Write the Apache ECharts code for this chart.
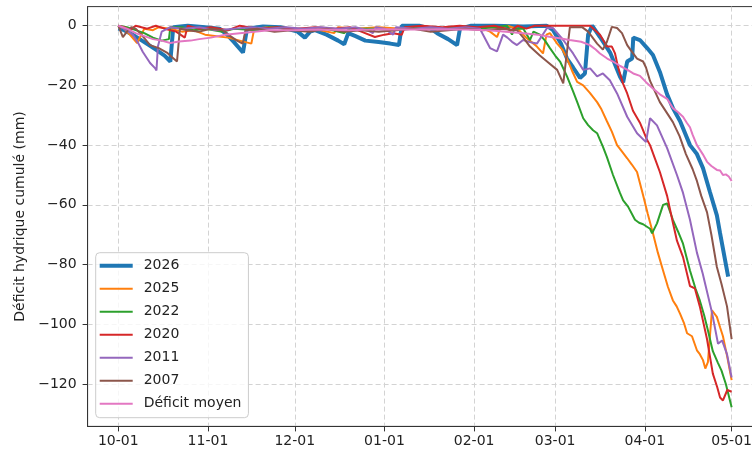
<!DOCTYPE html>
<html><head><meta charset="utf-8">
<script src="https://cdn.jsdelivr.net/npm/echarts@6/dist/echarts.min.js"></script>
<style>html,body{margin:0;padding:0;background:#fff;overflow:hidden}#c{width:790px;height:453px}</style>
</head><body><div id="c"></div><script>
// x = days since 10-01
const monthDays = [0,31,61,92,123,151,182,212];
const monthLabels = ['10-01','11-01','12-01','01-01','02-01','03-01','04-01','05-01'];
const yTicks = [0,-20,-40,-60,-80,-100,-120];
const seriesNames = ['2026','2025','2022','2020','2011','2007','Déficit moyen'];

const s2026 = [[0,-1],[2,-1.5],[5,-3],[9,-5.5],[13,-8],[16,-10],[18,-12],[19,-0.5],[24,0],[30,-0.5],[35,-1],[37.6,-3],[40,-5.5],[43.1,-9],[44.5,-1],[50,-0.3],[56,-0.5],[62,-2],[64.5,-4],[66.3,-2],[68,-1.5],[72,-3],[76,-5],[78.1,-6.2],[79.5,-2.5],[82,-3.5],[85.4,-5],[90,-5.5],[94,-6],[97,-6.5],[98,0],[104,0],[108,-1],[110.2,-2.5],[114,-4.5],[117.1,-6.5],[118.1,-1],[122,0],[130,0],[140,-0.3],[148,0],[150.3,-1.5],[153,-6],[155.1,-11],[157.2,-14],[159.6,-17.5],[161.3,-16],[162.4,-3],[163.8,0],[166.5,-3.8],[170,-9],[173.4,-17],[174.5,-19],[175.9,-12],[177.6,-11],[178,-4],[180.3,-4.8],[182.8,-7.5],[184.8,-9.8],[187.2,-15.5],[189.7,-23],[191.7,-27.6],[194.2,-32],[197.6,-40],[200,-43],[202.1,-47.7],[204.5,-55.7],[206.9,-63.5],[208,-69.5],[210.8,-84]];
const s2025 = [[0,0],[2,-1],[4,-3],[6.5,-5.8],[8,-3],[9,-1],[12,-1.5],[14,-0.5],[18,-1],[22,-2],[26,-1.5],[30,-3],[34,-3.5],[38,-4],[42,-5],[46,-6],[47,-1],[52,-0.5],[58,-1],[64,-1],[70,-1.5],[74.6,-2.5],[76,-0.5],[82,-1],[90,-0.5],[98,-1],[104,-0.5],[112,-1],[120,-0.5],[126,-1],[128.5,-2],[130.9,-3.8],[132,-1],[134.4,0],[138,-1],[141,-4],[144.7,-7],[146.8,-9.3],[148,-3],[149.2,-2.5],[151.7,-6],[153.5,-8],[155.1,-11],[156.8,-15],[158.6,-18.8],[160.7,-20],[163,-22.5],[165.5,-25.6],[167,-28],[168.9,-32],[170.6,-35.5],[172.4,-40],[174,-42],[175.9,-44.4],[177.5,-46.5],[179.3,-49],[181.4,-56.8],[183,-63],[184.8,-69.5],[186.5,-76],[188.3,-82],[190,-87.5],[191.7,-92],[193,-94],[194.2,-96.5],[195.5,-99.5],[196.6,-103],[198.3,-104],[200,-108.7],[201,-110],[202.1,-112],[202.9,-114.8],[203.8,-112.7],[205.2,-95.3],[206.9,-97.5],[208,-101],[209,-104],[210.5,-111],[212,-118.7]];
const s2022 = [[0,0],[3,-0.5],[6,-1.5],[9,-2.5],[12,-4],[15,-5],[17.5,-4.5],[18,-0.5],[22,-0.5],[26,-1.5],[30,-1],[36,-2],[40,-1],[48,-1.5],[52,-0.5],[60,-1],[66,-1.5],[72,-1],[78,-2.5],[80,-1],[88,-1],[95,-1.5],[100,-0.5],[108,-1],[116,-0.5],[124,-1],[130,-0.5],[134.4,0],[136.1,-3],[137,-1],[140,-1],[142.3,-4.8],[143.5,-2],[145.7,-3],[147.5,-5],[149.2,-7.5],[151,-10],[152.7,-12],[155.1,-17],[157.2,-22],[158.6,-25.5],[160.7,-31],[162.4,-33.3],[164.1,-35],[165.5,-36],[167.5,-40.5],[168.9,-44],[171,-50],[173.4,-56],[174.5,-58.5],[176.2,-60.6],[178.6,-65],[180,-66],[181.4,-66.5],[183.8,-68],[184.5,-69.5],[186.2,-66.2],[188.3,-60],[189.7,-59.5],[191.7,-65],[193.5,-69],[195.2,-73],[197.6,-82],[199.5,-88],[201,-92],[202.5,-97],[203.8,-102],[205.5,-109],[207.3,-113],[208.5,-115.5],[210,-120],[212,-127.8]];
const s2020 = [[0,0],[2,-0.5],[4,-1.5],[6,0],[10,-1],[13,0],[16,-1],[20,-2],[23,-4],[24,0],[28,-1],[32,-0.5],[38,-1.5],[42,0],[48,-1],[55,-0.5],[62,-1],[68,-0.5],[75,-1],[80,-0.5],[84,-2],[88.7,-3.8],[92,-3],[95,-2.5],[98,-3],[99,-0.5],[105,0],[112,-0.5],[118,0],[124,-0.5],[130,0],[136,-1.5],[138,0],[141,-1],[144,0],[150,0],[156,0],[163.1,0],[166.5,-3],[168.9,-7],[170.6,-7],[171.7,-9.3],[172.7,-13.7],[174.5,-19.5],[175.9,-22.7],[177.9,-28.5],[180.3,-32.5],[182.8,-38.3],[183.8,-40],[185.5,-44.5],[187.2,-49],[189.7,-57],[191.7,-66],[193.1,-72],[195.2,-77.5],[197.6,-87.2],[198.5,-87.6],[199.3,-88],[201,-94],[203.5,-105],[205.5,-116.5],[207,-121],[208,-124.5],[209,-125.5],[210.5,-122],[212,-122.6]];
const s2011 = [[0,0],[2,-1],[5,-3],[7,-6],[8.5,-8.8],[11,-12.5],[12.7,-14.2],[13.2,-15],[13.7,-7],[15,-2],[18,-0.5],[22,-1],[28,-0.5],[34,-1.5],[40,-1],[46,-0.5],[52,-1],[58,-0.5],[64,-1],[70,-0.5],[76,-1],[82,-0.5],[86,-1.5],[88,-2.5],[89,-0.5],[92,-1],[95,-3],[96,-0.5],[102,-1],[108,-0.5],[114,-1],[120,-0.5],[125,-1],[128.5,-7.5],[130.9,-8.6],[133,-3],[134.5,-4],[136.1,-5.4],[137.8,-6.5],[139.9,-4.8],[142.3,-5.5],[144.7,-6],[148.2,-0.8],[150.3,-0.8],[153.8,-4.8],[157.2,-9.3],[160.7,-14.8],[163.1,-14.3],[165.5,-17],[167.5,-16],[169.9,-18.3],[172.4,-22.7],[175.9,-30.5],[179.3,-36],[182.4,-39],[183.8,-31],[186.2,-33.4],[189.7,-41],[193.1,-50],[195.2,-56],[197.6,-65],[200,-76],[202,-83],[205.2,-96],[207.3,-106.5],[208.7,-105.4],[210.4,-110],[212,-117.8]];
const s2007 = [[0,0],[1.6,-3.8],[3,-2],[4.5,-0.5],[6,-1],[8,-3],[11,-6.5],[14,-7.5],[16.8,-9],[18.5,-10.5],[20.3,-12],[21.3,-1],[24,-1.5],[28,-2],[32,-1],[36,-1.5],[38,-3],[41,-5],[43,-6],[44,-1.5],[48,-1],[54,-2],[60,-1.5],[66,-2],[72,-1],[78,-2],[84,-1.5],[90,-2],[96,-1.5],[102,-1],[108,-2],[114,-1.5],[120,-1],[126,-1.5],[132,-1],[137.8,-1.5],[140,-4],[142.3,-7],[145.7,-10],[148.2,-12],[151.7,-14.8],[153.8,-19.3],[156.1,-0.5],[160.3,-0.5],[162.4,-2],[165.5,-6],[167.5,-8],[168.9,-5.4],[170.6,-0.4],[171,0],[172.4,-0.8],[174.1,-2.5],[175.9,-6.5],[177,-8],[179.3,-11],[181.4,-12],[182.4,-14],[183.8,-18.5],[187.2,-25.6],[191.7,-32.3],[194,-37],[196.2,-43],[198.5,-48],[200,-52],[201.5,-57],[203.5,-62.5],[205,-70],[206.9,-80.8],[208.5,-86.5],[210.4,-94],[212,-105]];
const sMoyen = [[0,0],[3,-1],[6,-2.5],[9,-3.5],[12,-4.5],[15,-5],[18,-5.8],[21,-5.3],[25,-5],[28,-4.5],[32,-4],[37,-3],[42,-2.5],[47,-2],[52,-1.5],[60,-1.5],[70,-1.3],[80,-1.5],[90,-1.2],[100,-1.3],[110,-1.2],[120,-1.3],[128,-1.5],[134,-2],[140,-2.5],[145,-3],[149,-3.7],[153,-4.3],[156,-4.8],[160,-5.4],[163,-6.5],[165,-8],[166.5,-9.3],[169,-11],[171,-12],[173.5,-13.5],[176,-14.8],[178,-16],[180.3,-16.8],[182.5,-19],[184.8,-21],[187.2,-23],[189.7,-24.5],[191.7,-27.6],[193.5,-29],[195.2,-30.5],[196.5,-32.5],[197.6,-34],[198.5,-36.5],[200,-40],[202,-43],[203.5,-45.6],[205,-47],[206.9,-48.3],[208,-48.5],[209,-50],[210,-49.8],[211,-50.5],[212,-52]];

const allData = [s2026, s2025, s2022, s2020, s2011, s2007, sMoyen];
const colors = ['#1f77b4','#ff7f0e','#2ca02c','#d62728','#9467bd','#8c564b','#e377c2'];
const widths = [4,2,2,2,2,2,2];

const FONT = 'DejaVu Sans';
const TXT = '#222';
const chart = echarts.init(document.getElementById('c'), null, {renderer:'canvas'});
const gridLine = {show:true, lineStyle:{type:[5,3], color:'#d3d3d3', width:1}};
chart.setOption({
  animation:false,
  backgroundColor:'#fff',
  grid:{left:87.6, top:6.6, width:674.7, height:419.8, show:true, borderColor:'#333', borderWidth:1, backgroundColor:'transparent'},
  xAxis:{type:'value', min:-10.6, max:222.6,
    axisLine:{onZero:false, lineStyle:{color:'#333', width:1}},
    axisTick:{customValues:monthDays, length:5, lineStyle:{color:'#333'}},
    axisLabel:{customValues:monthDays, formatter:v=>monthLabels[monthDays.indexOf(v)], fontSize:14, color:TXT, fontFamily:FONT, margin:8},
    splitLine:gridLine},
  yAxis:{type:'value', min:-134.19, max:6.39,
    axisLine:{show:true, onZero:false, lineStyle:{color:'#333', width:1}},
    axisTick:{show:true, customValues:yTicks, length:5, lineStyle:{color:'#333'}},
    axisLabel:{customValues:yTicks, formatter:v=>String(v).replace('-','\u2212'), fontSize:14, color:TXT, fontFamily:FONT, margin:11},
    splitLine:gridLine,
    name:'Déficit hydrique cumulé (mm)', nameLocation:'middle', nameGap:59, nameRotate:90,
    nameTextStyle:{fontSize:14, color:TXT, fontFamily:FONT}},
  legend:{orient:'vertical', left:95.7, top:252.7, padding:[6,7,7,4], itemWidth:33, itemHeight:14, itemGap:9,
    backgroundColor:'rgba(255,255,255,0.8)', borderColor:'#cccccc', borderWidth:1, borderRadius:4,
    textStyle:{fontSize:14, color:TXT, fontFamily:FONT, padding:[0,0,0,6]},
    data:seriesNames.map((n,i)=>({name:n, icon:'path://M0,0L33,0L33,'+widths[i]+'L0,'+widths[i]+'Z'}))},
  series: seriesNames.map((n,i)=>({type:'line', name:n, data:allData[i], symbol:'none', showSymbol:false,
    lineStyle:{width:widths[i], color:colors[i]}, itemStyle:{color:colors[i]}, clip:true}))
});
</script></body></html>
